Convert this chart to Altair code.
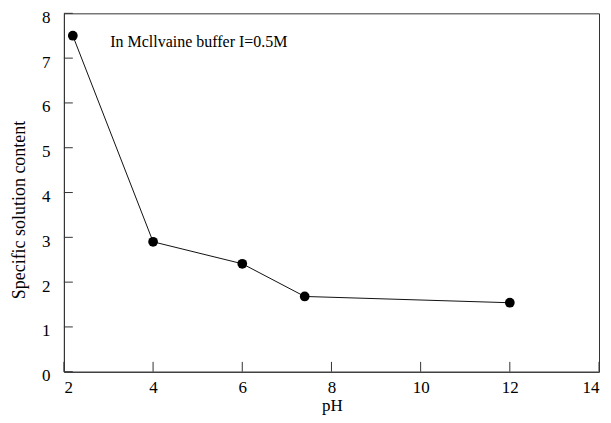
import altair as alt
import pandas as pd

ph = [2.2, 4.0, 6.0, 7.4, 12.0]
content = [7.5, 2.9, 2.41, 1.68, 1.54]
x_ticks = [2, 4, 6, 8, 10, 12, 14]
y_ticks = [0, 1, 2, 3, 4, 5, 6, 7, 8]
note = "In Mcllvaine buffer I=0.5M"
x_title = "pH"
y_title = "Specific solution content"

df = pd.DataFrame({"pH": ph, "content": content})
xt = pd.DataFrame({"x": x_ticks})
yt = pd.DataFrame({"y": y_ticks})

FONT = "Liberation Serif"
xs = alt.Scale(domain=[2, 14], nice=False, zero=False)
ys = alt.Scale(domain=[0, 8], nice=False)

common = dict(labelFont=FONT, labelFontSize=17, labelColor="black", title=None,
              grid=False, ticks=False, domainColor="#333", domainWidth=1)

xaxis = alt.Axis(values=x_ticks, labelPadding=8, **common)
yaxis = alt.Axis(values=y_ticks, labelPadding=14, labelOffset=4, **common)

line = alt.Chart(df).mark_line(color="#111", strokeWidth=1).encode(
    x=alt.X("pH:Q", scale=xs, axis=xaxis),
    y=alt.Y("content:Q", scale=ys, axis=yaxis),
)
pts = alt.Chart(df).mark_point(filled=True, color="black", size=95, opacity=1).encode(
    x=alt.X("pH:Q", scale=xs, axis=xaxis), y=alt.Y("content:Q", scale=ys, axis=yaxis)
)
xtick = alt.Chart(xt).mark_rule(color="#333", strokeWidth=1).encode(
    x=alt.X("x:Q", scale=xs, axis=xaxis),
    y=alt.YDatum(0, axis=yaxis), y2=alt.Y2Datum(0.22)
)
ytick = alt.Chart(yt).mark_rule(color="#333", strokeWidth=1).encode(
    y=alt.Y("y:Q", scale=ys, axis=yaxis),
    x=alt.XDatum(2, axis=xaxis), x2=alt.X2Datum(2.2)
)
text = alt.Chart(pd.DataFrame({"x": [3.04], "y": [7.36], "t": [note]})).mark_text(
    align="left", baseline="middle", font=FONT, fontSize=16, color="black"
).encode(x=alt.X("x:Q", scale=xs, axis=xaxis), y=alt.Y("y:Q", scale=ys, axis=yaxis),
         text="t:N")

xtitle = alt.Chart(pd.DataFrame({"t": [x_title]})).mark_text(
    align="center", baseline="alphabetic", font=FONT, fontSize=17, color="black"
).encode(x=alt.value(269), y=alt.value(398), text="t:N")
ytitle = alt.Chart(pd.DataFrame({"t": [y_title]})).mark_text(
    align="center", baseline="middle", font=FONT, fontSize=18, color="black", angle=270
).encode(x=alt.value(-44), y=alt.value(197), text="t:N")

chart = alt.layer(line, xtick, ytick, pts, text, xtitle, ytitle).properties(
    width=536, height=359,
    autosize=alt.AutoSizeParams(type="none"),
    padding={"left": 56, "top": 5, "right": 4, "bottom": 43},
).configure(font=FONT).configure_axis(
    labelFont=FONT, titleFont=FONT
).configure_view(stroke="#333", strokeWidth=1)

chart.save("out.html", embed_options={"renderer": "svg", "actions": False})
